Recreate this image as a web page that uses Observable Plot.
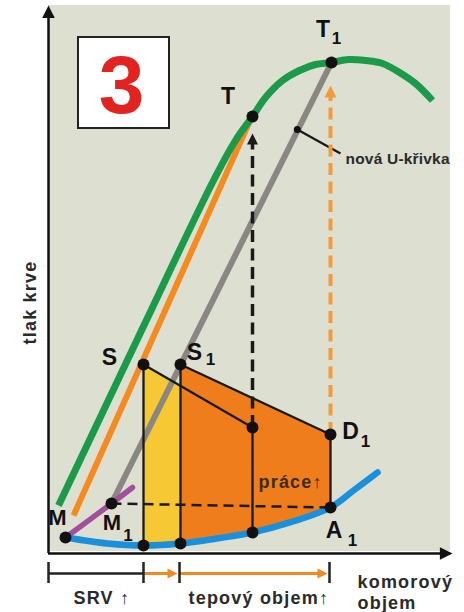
<!DOCTYPE html>
<html><head><meta charset="utf-8">
<script src="https://cdn.jsdelivr.net/npm/d3@7"></script>
<script src="https://cdn.jsdelivr.net/npm/@observablehq/plot@0.6"></script>
<style>
body{margin:0;background:#fff}
#chart svg text{letter-spacing:1.2px}
</style>
</head><body><div id="chart"></div>
<script>
// Key points of the diagram (volume, pressure; arbitrary units)
const pointNames     = ["M", "M1", "S", "S1", "Sb", "S1b", "T", "Tm", "Tb", "T1", "D1", "A1"];
const pointVolumes   = [4.25, 15.75, 23.75, 33, 23.75, 33, 51, 51, 51, 70.75, 70.5, 70.5];
const pointPressures = [4, 12.5, 47.25, 47.25, 2, 2.5, 109.25, 31.5, 5.25, 122.75, 29.75, 11.5];

// small marker on the new U-curve and the end of its leader line
const markerNames     = ["U", "L"];
const markerVolumes   = [62.2, 73];
const markerPressures = [106, 100];

// curves
const greenVolumes   = [2.5, 23.25, 41.25, 46.75, 51, 54.25, 58.5, 62.75, 66.75, 70.75, 75, 79.25, 83.5, 87.75, 91.75, 96];
const greenPressures = [12, 55.75, 93.25, 103.25, 109.25, 114, 118.25, 120.75, 122.25, 122.75, 123.5, 123.25, 122.5, 120.25, 117.5, 113.25];
const orangeVolumes   = [6.25, 50.5];
const orangePressures = [9.5, 108.5];
const grayVolumes   = [15.75, 70.75];
const grayPressures = [12.5, 122.75];
const purpleVolumes   = [4.25, 15.75, 21];
const purplePressures = [4, 12.5, 16.5];
const blueVolumes   = [4.25, 14.75, 23.75, 33, 42, 51, 60.75, 70.5, 76.25, 82.25];
const bluePressures = [4, 2.5, 2, 2.5, 3.75, 5.25, 7.9, 11.5, 15.75, 20.25];

// filled work areas
const yellowVolumes   = [23.75, 33, 33, 23.75];
const yellowPressures = [47.25, 42, 2.5, 2];
const workVolumes   = [33, 70.5, 70.5, 60.75, 51, 42, 33];
const workPressures = [47.25, 29.75, 11.5, 7.9, 5.25, 3.75, 2.5];

// segments between key points
const solidSegments  = [["S","Sb"],["S1","S1b"],["Tm","Tb"],["D1","A1"],["S","Tm"],["S1","D1"],["U","L"]];
const dashedSegments = [["M1","A1"]];
// rising dashed arrows: start point and arrow tip pressure
const riseFrom = ["Tm", "D1"];
const riseTip  = [105, 117];

// volume bracket under the axis
const bracketTicks = [0, 23.75, 32.75, 70.25];
const bracketOrangeFrom = [23.75, 32.75];
const bracketOrangeTo   = [32.25, 69.75];

// texts
const yLabel = "tlak krve";
const xLabel1 = "komorový", xLabel2 = "objem";
const srvLabel = "SRV ↑", svLabel = "tepový objem↑", workLabel = "práce↑", curveLabel = "nová U-křivka";
const panelNumber = "3";

const P = {};
pointNames.forEach((n, i) => P[n] = {name: n, x: pointVolumes[i], y: pointPressures[i]});
markerNames.forEach((n, i) => P[n] = {name: n, x: markerVolumes[i], y: markerPressures[i]});
const zip = (xs, ys) => xs.map((x, i) => ({x, y: ys[i]}));
const font = "'Liberation Sans', Arial, Helvetica, sans-serif";

const arrowHead = {
  draw(context, size) {
    const L = 2 * Math.sqrt(size / Math.PI);
    context.moveTo(0, 0);
    context.lineTo(L * 0.5, L);
    context.lineTo(-L * 0.5, L);
    context.closePath();
  }
};

function label(name, text, dx, dy, size) {
  return Plot.text([P[name]], {x: "x", y: "y", text: () => text, dx, dy, fontSize: size,
    fontWeight: "bold", fill: "#111", fontFamily: font, textAnchor: "middle", lineAnchor: "middle"});
}
function plainText(text, x, y, opts = {}) {
  return Plot.text([text], {x: () => x, y: () => y, text: d => d, fontFamily: font, fontWeight: "bold",
    fill: "#2a2a2a", fontSize: 18, textAnchor: "start", lineAnchor: "bottom", ...opts});
}
const link = (segs, opts) => Plot.link(segs, {
  x1: d => P[d[0]].x, y1: d => P[d[0]].y, x2: d => P[d[1]].x, y2: d => P[d[1]].y, ...opts});

const chart = Plot.plot({
  width: 464, height: 612,
  marginLeft: 48, marginRight: 12, marginTop: 5, marginBottom: 59,
  x: {domain: [0, 101], axis: null},
  y: {domain: [0, 137], axis: null},
  style: {background: "white", fontFamily: font, overflow: "visible"},
  marks: [
    // background panel
    Plot.rect([0], {x1: 0, x2: 100.5, y1: 0.5, y2: 137, fill: "#dde0d0"}),
    // panel number box
    Plot.rect([0], {x1: 7.5, x2: 30.25, y1: 106.25, y2: 129, fill: "white", stroke: "#222", strokeWidth: 2}),
    Plot.text([panelNumber], {x: () => 18.25, y: () => 117.5, text: d => d, dy: 3, fontSize: 82,
      fontWeight: "bold", fill: "#e2231f", fontFamily: font}),
    // work areas
    Plot.line(zip(yellowVolumes, yellowPressures), {x: "x", y: "y", fill: "#f6c833", stroke: "none"}),
    Plot.line(zip(workVolumes, workPressures), {x: "x", y: "y", fill: "#ef7d1b", stroke: "none"}),
    // curves
    Plot.line(zip(grayVolumes, grayPressures), {x: "x", y: "y", stroke: "#8a8782", strokeWidth: 6, strokeLinecap: "butt"}),
    Plot.line(zip(orangeVolumes, orangePressures), {x: "x", y: "y", stroke: "#f58a1f", strokeWidth: 6, strokeLinecap: "butt"}),
    Plot.line(zip(greenVolumes, greenPressures), {x: "x", y: "y", stroke: "#1b9a4a", strokeWidth: 7, curve: "catmull-rom", strokeLinecap: "butt"}),
    Plot.line(zip(purpleVolumes, purplePressures), {x: "x", y: "y", stroke: "#a24f9c", strokeWidth: 5.5, curve: "catmull-rom"}),
    Plot.line(zip(blueVolumes, bluePressures), {x: "x", y: "y", stroke: "#1a8fdc", strokeWidth: 6.5, curve: "catmull-rom"}),
    // black construction lines
    link(solidSegments, {stroke: "#1a1a1a", strokeWidth: 2.3}),
    link(dashedSegments, {stroke: "#1a1a1a", strokeWidth: 2.5, strokeDasharray: "10,6"}),
    // rising dashed arrows
    Plot.ruleX([P[riseFrom[0]]], {x: "x", y1: "y", y2: () => riseTip[0] - 2, stroke: "#1a1a1a", strokeWidth: 3.5, strokeDasharray: "12,6.5"}),
    Plot.ruleX([P[riseFrom[1]]], {x: "x", y1: "y", y2: () => riseTip[1] - 2, stroke: "#f39a3c", strokeWidth: 4, strokeDasharray: "12,6.5"}),
    Plot.dot([P[riseFrom[0]]], {x: "x", y: () => riseTip[0], symbol: arrowHead, r: 5.5, fill: "#1a1a1a"}),
    Plot.dot([P[riseFrom[1]]], {x: "x", y: () => riseTip[1], symbol: arrowHead, r: 6, fill: "#f39a3c"}),
    // axes
    Plot.ruleX([0], {y1: 0, y2: 135, stroke: "#111", strokeWidth: 2.5}),
    Plot.ruleY([0], {x1: 0, x2: 99, stroke: "#111", strokeWidth: 2.5}),
    Plot.dot([0], {x: () => 0, y: () => 137, symbol: arrowHead, r: 6.3, fill: "#111"}),
    Plot.dot([0], {x: () => 101, y: () => 0, symbol: arrowHead, r: 6.3, fill: "#111", rotate: 90}),
    // volume bracket
    Plot.ruleY([-5], {x1: 0, x2: 23.75, stroke: "#222", strokeWidth: 2.5}),
    Plot.link(bracketOrangeFrom.map((v, i) => [v, bracketOrangeTo[i]]),
      {x1: d => d[0], x2: d => d[1] - 1.5, y1: () => -5, y2: () => -5, stroke: "#f08a24", strokeWidth: 3}),
    Plot.dot(bracketOrangeTo, {x: d => d, y: () => -5, symbol: arrowHead, r: 5, fill: "#f08a24", rotate: 90}),
    Plot.ruleX(bracketTicks, {x: d => d, y1: () => -2.25, y2: () => -7.5, stroke: "#222", strokeWidth: 2.5}),
    // key point dots
    Plot.dot(pointNames.map(n => P[n]), {x: "x", y: "y", r: 6, fill: "#111"}),
    Plot.dot([P.U], {x: "x", y: "y", r: 3.5, fill: "#111"}),
    // point labels
    label("M", "M", -8, -19.5, 22),
    label("M1", "M", 0.5, 19.5, 22), label("M1", "1", 16.5, 32, 17),
    label("S", "S", -34, -6.5, 23),
    label("S1", "S", 14, -11.5, 23), label("S1", "1", 30, -4.5, 17),
    label("T", "T", -24.5, -20, 23),
    label("T1", "T", -8.5, -32.5, 23), label("T1", "1", 5, -23.5, 17),
    label("D1", "D", 20, -2.5, 23), label("D1", "1", 35, 7, 17),
    label("A1", "A", 3.5, 23, 23), label("A1", "1", 22, 33, 17),
    // other texts
    plainText(curveLabel, 74.25, 97.5, {fontSize: 15.5}),
    plainText(workLabel, 52.5, 16.5, {fontSize: 18, fill: "#3d2b1f"}),
    plainText(srvLabel, 6.25, -12.5),
    plainText(svLabel, 35, -12.5),
    plainText(xLabel1, 77.25, -8.5),
    plainText(xLabel2, 77.25, -13.75),
    Plot.text([yLabel], {x: () => -4.5, y: () => 62.75, text: d => d, rotate: -90, fontSize: 18,
      fontWeight: "bold", fill: "#2a2a2a", fontFamily: font, textAnchor: "middle", lineAnchor: "middle"})
  ]
});
d3.select(chart).selectAll("text").filter(function() { return this.textContent === curveLabel; })
  .style("letter-spacing", "0.2px");
d3.select(chart).selectAll("text").filter(function() { return this.textContent.length === 1; })
  .style("letter-spacing", "0px");
document.getElementById("chart").appendChild(chart);
</script>
</body></html>
